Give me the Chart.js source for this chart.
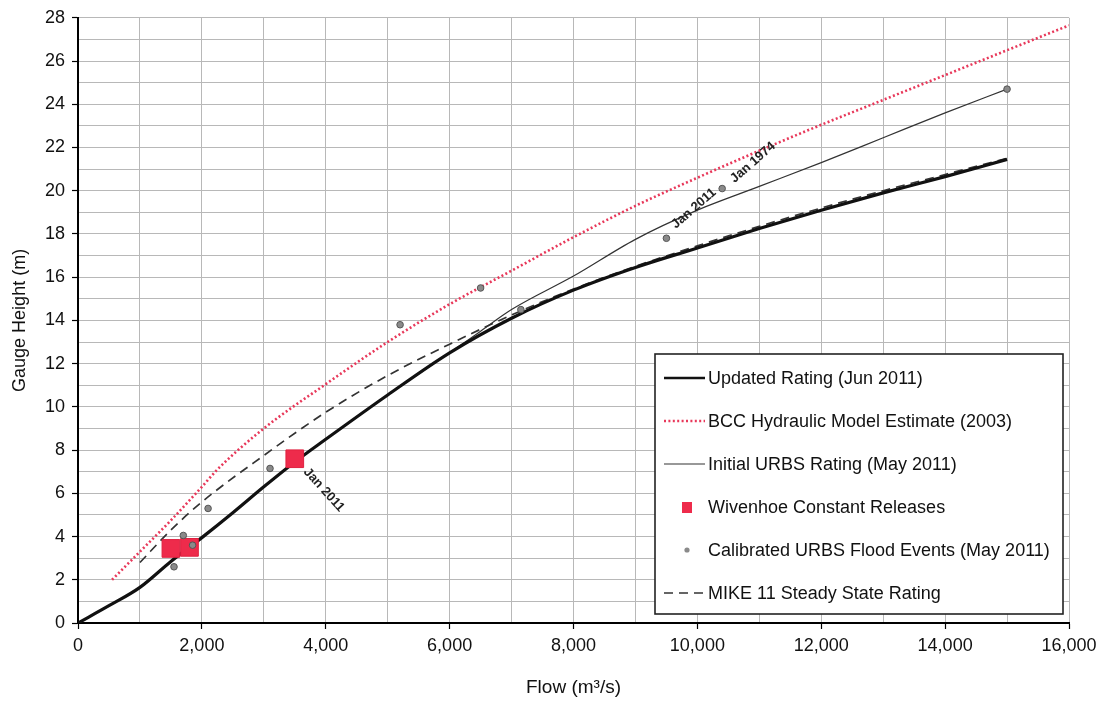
<!DOCTYPE html>
<html>
<head>
<meta charset="utf-8">
<title>Rating curves</title>
<script src="https://cdn.jsdelivr.net/npm/chart.js@4/dist/chart.umd.min.js"></script>
<style>
    html, body { margin: 0; padding: 0; background: #fff; }
    #chart { display: block; }
</style>
</head>
<body>
<canvas id="chart" width="1114" height="703"></canvas>
<script>
"use strict";

// ---- data ----
const updatedFlow   = [0, 500, 1000, 1500, 2000, 2500, 3000, 3500, 4000, 5000, 6000, 7000, 8000, 9000, 10000, 11000, 12000, 13000, 14000, 15000];
const updatedHeight = [0, 0.8, 1.65, 2.85, 3.95, 5.1, 6.3, 7.45, 8.5, 10.55, 12.5, 14.1, 15.4, 16.45, 17.35, 18.25, 19.1, 19.9, 20.65, 21.45];

const bccFlow   = [550, 1000, 1500, 2000, 2250, 3000, 4000, 5000, 6000, 7000, 8000, 9000, 10000, 11000, 12000, 13000, 14000, 15000, 16000];
const bccHeight = [2.0, 3.3, 4.75, 6.3, 7.1, 9.0, 11.05, 13.0, 14.75, 16.3, 17.85, 19.3, 20.6, 21.85, 23.05, 24.2, 25.35, 26.5, 27.65];

const initialFlow   = [1000, 1500, 2000, 2500, 3000, 3500, 4000, 5000, 6000, 6500, 7000, 8000, 9000, 10000, 11000, 12000, 13000, 14000, 15000];
const initialHeight = [1.65, 2.85, 3.95, 5.1, 6.3, 7.45, 8.5, 10.55, 12.5, 13.5, 14.5, 16.05, 17.75, 19.1, 20.2, 21.3, 22.45, 23.6, 24.7];

const mikeFlow   = [1000, 1500, 2000, 3000, 4000, 5000, 6000, 7000, 8000, 9000, 10000, 11000, 12000, 13000, 14000, 15000];
const mikeHeight = [2.8, 4.3, 5.6, 7.75, 9.75, 11.45, 12.9, 14.25, 15.45, 16.5, 17.45, 18.35, 19.2, 20.0, 20.75, 21.5];

const releaseFlow   = [1500, 1800, 3500];
const releaseHeight = [3.45, 3.5, 7.6];

const eventFlow   = [1550, 1700, 1850, 2100, 3100, 5200, 6500, 7150, 9500, 10400, 15000];
const eventHeight = [2.6, 4.05, 3.6, 5.3, 7.15, 13.8, 15.5, 14.5, 17.8, 20.1, 24.7];

const noteText   = ["Jan 2011", "Jan 2011", "Jan 1974"];
const noteFlow   = [3500, 9500, 10400];
const noteHeight = [7.6, 17.8, 20.1];

const seriesNames = [
    "Updated Rating (Jun 2011)",
    "BCC Hydraulic Model Estimate (2003)",
    "Initial URBS Rating (May 2011)",
    "Wivenhoe Constant Releases",
    "Calibrated URBS Flood Events (May 2011)",
    "MIKE 11 Steady State Rating"
];

const xTickStep = 1000;
const yTickStep = 1;

(function (window, document) {
    const FONT = "'Liberation Sans', Arial, sans-serif";
    const NARROW = "'Liberation Sans Narrow', 'Liberation Sans', Arial, sans-serif";
    const RED = "#ee2b4b";

    const zip = (xs, ys) => xs.map((x, i) => ({ x, y: ys[i] }));
    const fmt = (v) => v.toLocaleString("en-US");

    /* ---------------- datasets ---------------- */
    const lineBase = { showLine: true, pointRadius: 0, cubicInterpolationMode: "monotone", fill: false };

    const datasets = [
        Object.assign({}, lineBase, {
            label: seriesNames[0], data: zip(updatedFlow, updatedHeight),
            borderColor: "#111", borderWidth: 3.2, order: 2, kind: "line"
        }),
        Object.assign({}, lineBase, {
            label: seriesNames[1], data: zip(bccFlow, bccHeight),
            borderColor: "#e8385a", borderWidth: 2.6, borderDash: [2, 2.4], order: 5, kind: "line"
        }),
        Object.assign({}, lineBase, {
            label: seriesNames[2], data: zip(initialFlow, initialHeight),
            borderColor: "#333", borderWidth: 1.2, order: 4, kind: "line"
        }),
        {
            label: seriesNames[3], data: zip(releaseFlow, releaseHeight), showLine: false,
            pointStyle: "rect", pointRadius: 12.5, backgroundColor: RED, borderColor: "#e0203f",
            borderWidth: 1, order: 1, kind: "rect"
        },
        {
            label: seriesNames[4], data: zip(eventFlow, eventHeight), showLine: false,
            pointStyle: "circle", pointRadius: 3.3, backgroundColor: "#8a8a8a", borderColor: "#555",
            borderWidth: 1, order: 0, kind: "dot"
        },
        Object.assign({}, lineBase, {
            label: seriesNames[5], data: zip(mikeFlow, mikeHeight),
            borderColor: "#333", borderWidth: 1.7, borderDash: [9, 6], order: 3, kind: "line"
        })
    ];

    /* ---------------- in-plot notes ---------------- */
    const NOTE_STYLE = [
        { dx: 11, dy: 11, angle: 48 },
        { dx: 7, dy: -12, angle: -41 },
        { dx: 10, dy: -8, angle: -41 }
    ];

    const notesPlugin = {
        id: "notes",
        afterDatasetsDraw(chart) {
            const { ctx, scales } = chart;
            ctx.save();
            ctx.font = "bold 13px " + FONT;
            ctx.fillStyle = "#222";
            ctx.textBaseline = "middle";
            ctx.textAlign = "left";
            noteText.forEach((txt, i) => {
                const s = NOTE_STYLE[i];
                const px = scales.x.getPixelForValue(noteFlow[i]) + s.dx;
                const py = scales.y.getPixelForValue(noteHeight[i]) + s.dy;
                ctx.save();
                ctx.translate(px, py);
                ctx.rotate(s.angle * Math.PI / 180);
                ctx.fillText(txt, 0, 0);
                ctx.restore();
            });
            ctx.restore();
        }
    };

    /* ---------------- boxed legend inside the plot ---------------- */
    const legendPlugin = {
        id: "boxLegend",
        afterDraw(chart) {
            const { ctx, chartArea } = chart;
            const w = 408, h = 260;
            const x0 = chartArea.right - 6 - w;
            const y0 = chartArea.bottom - 9 - h;
            const rowGap = 43;

            ctx.save();
            ctx.fillStyle = "#fff";
            ctx.fillRect(x0, y0, w, h);
            ctx.strokeStyle = "#222";
            ctx.lineWidth = 1.6;
            ctx.strokeRect(x0, y0, w, h);

            ctx.font = "18px " + FONT;
            ctx.textBaseline = "middle";
            ctx.textAlign = "left";

            chart.data.datasets.forEach((ds, i) => {
                const cy = y0 + 24 + i * rowGap;
                const sx = x0 + 9, ex = x0 + 50;
                if (ds.kind === "line") {
                    ctx.save();
                    ctx.strokeStyle = ds.borderColor;
                    ctx.lineWidth = Math.min(ds.borderWidth, 2.6);
                    ctx.setLineDash(ds.borderDash || []);
                    ctx.beginPath();
                    ctx.moveTo(sx, cy);
                    ctx.lineTo(ex, cy);
                    ctx.stroke();
                    ctx.restore();
                } else if (ds.kind === "rect") {
                    ctx.fillStyle = ds.backgroundColor;
                    ctx.fillRect(x0 + 27, cy - 5, 10, 11);
                } else {
                    ctx.fillStyle = ds.backgroundColor;
                    ctx.beginPath();
                    ctx.arc(x0 + 32, cy, 2.6, 0, Math.PI * 2);
                    ctx.fill();
                }
                ctx.fillStyle = "#111";
                ctx.fillText(ds.label, x0 + 53, cy + 1);
            });
            ctx.restore();
        }
    };

    /* ---------------- chart ---------------- */
    const majorTick = (step) => (c) => (c.tick && Math.round(c.tick.value) % step === 0 ? "#000" : "rgba(0,0,0,0)");

    new Chart(document.getElementById("chart"), {
        type: "scatter",
        data: { datasets },
        options: {
            responsive: false,
            animation: false,
            layout: { padding: { top: 12, right: 45, left: 0, bottom: 0 } },
            plugins: {
                legend: { display: false },
                tooltip: { enabled: false }
            },
            scales: {
                x: {
                    type: "linear", min: 0, max: 16000,
                    afterFit: (s) => { s.height = 80; },
                    border: { color: "#000", width: 2 },
                    grid: { color: "#b8b8b8", lineWidth: 1, tickLength: 6, tickColor: majorTick(2000), tickWidth: 1.2 },
                    ticks: {
                        stepSize: xTickStep, autoSkip: false, maxRotation: 0, padding: 6,
                        color: "#111", font: { family: NARROW, size: 18 },
                        callback: (v) => (v % 2000 === 0 ? fmt(v) : "")
                    },
                    title: {
                        display: true, text: "Flow (m³/s)", color: "#111",
                        font: { family: FONT, size: 19 }, padding: { top: 0, bottom: 4 }
                    }
                },
                y: {
                    type: "linear", min: 0, max: 28,
                    afterFit: (s) => { s.width = 78; },
                    border: { color: "#000", width: 2 },
                    grid: { color: "#b8b8b8", lineWidth: 1, tickLength: 6, tickColor: majorTick(2), tickWidth: 1.2 },
                    ticks: {
                        stepSize: yTickStep, autoSkip: false, padding: 7,
                        color: "#111", font: { family: FONT, size: 18 },
                        callback: (v) => (v % 2 === 0 ? String(v) : "")
                    },
                    title: {
                        display: true, text: "Gauge Height (m)", color: "#111",
                        font: { family: FONT, size: 18 }, padding: { top: 9, bottom: 0 }
                    }
                }
            }
        },
        plugins: [notesPlugin, legendPlugin]
    });
})(window, document);
</script>
</body>
</html>
